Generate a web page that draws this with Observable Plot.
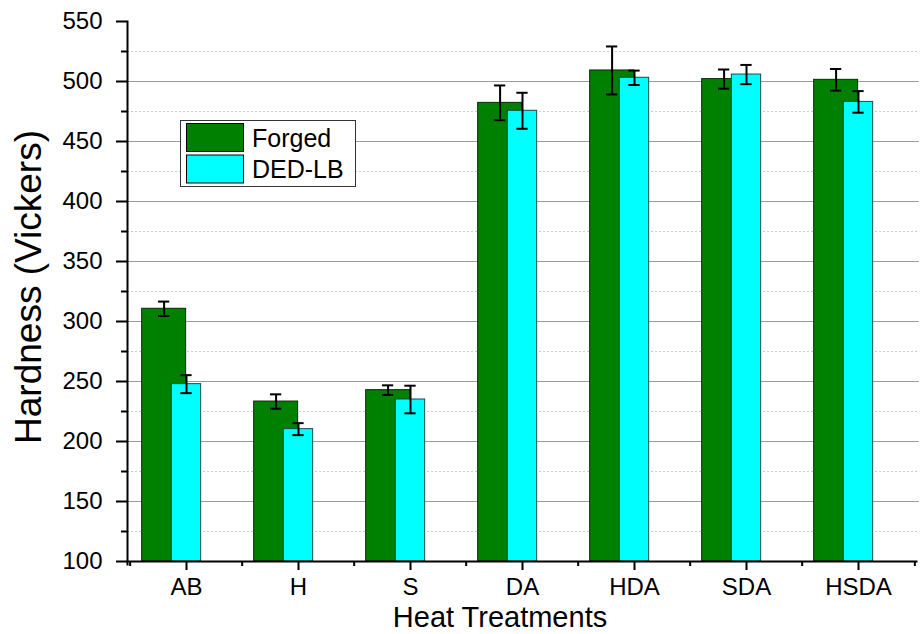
<!DOCTYPE html>
<html>
<head>
<meta charset="utf-8">
<script src="https://cdn.jsdelivr.net/npm/d3@7"></script>
<script src="https://cdn.jsdelivr.net/npm/@observablehq/plot@0.6"></script>
<style>
  html, body { margin: 0; padding: 0; background: #fff; }
  #chart { width: 920px; height: 634px; }
</style>
</head>
<body>
<div id="chart"></div>
<script>
// Vickers hardness per heat treatment, forged vs DED-LB material
const categories = ["AB", "H", "S", "DA", "HDA", "SDA", "HSDA"];
const seriesNames = ["Forged", "DED-LB"];
const seriesColors = ["#008000", "#00ffff"];

const forgedMean = [310.6, 233.3, 242.8, 482.2, 509.2, 502.0, 501.4];
const forgedErr  = [6, 6, 4, 14.5, 20, 8, 9];
const dedMean    = [247.8, 210.3, 235.0, 475.6, 503.1, 505.8, 483.0];
const dedErr     = [7.5, 5, 11.5, 15, 6, 8, 9];

const yMajorTicks = [100, 150, 200, 250, 300, 350, 400, 450, 500, 550];
const yMinorTicks = [125, 175, 225, 275, 325, 375, 425, 475, 525];
const yGridMajor = [150, 200, 250, 300, 350, 400, 450, 500];

const W = 920, H = 634;
const mLeft = 127, mRight = 4, mTop = 21, mBottom = 73;
const bw = (W - mLeft - mRight) / categories.length;

const forgedRows = categories.map((c, i) => ({cat: c, v: forgedMean[i], e: forgedErr[i]}));
const dedRows = categories.map((c, i) => ({cat: c, v: dedMean[i], e: dedErr[i]}));

// Forged bar is wider and sits left of the category centre; DED-LB bar is centred and drawn on top
const forgedDx = -22.4;
const capW = 12;
const capInset = (bw - capW) / 2;

const errMarks = (rows, dx) => [
  Plot.ruleX(rows, {x: "cat", y1: d => d.v - d.e, y2: d => d.v + d.e, dx, stroke: "#000", strokeWidth: 2}),
  Plot.tickY(rows, {x: "cat", y: d => d.v + d.e, dx, insetLeft: capInset, insetRight: capInset, stroke: "#000", strokeWidth: 2}),
  Plot.tickY(rows, {x: "cat", y: d => d.v - d.e, dx, insetLeft: capInset, insetRight: capInset, stroke: "#000", strokeWidth: 2})
];

const chart = Plot.plot({
  width: W,
  height: H,
  marginLeft: mLeft,
  marginRight: mRight,
  marginTop: mTop,
  marginBottom: mBottom,
  style: {fontFamily: "'Liberation Sans', Arial, sans-serif", background: "#fff", overflow: "visible"},
  x: {type: "band", domain: categories, padding: 0, label: null},
  y: {domain: [100, 550], label: null},
  marks: [
    // grid
    Plot.ruleY(yMinorTicks, {stroke: "#cacaca", strokeWidth: 1, strokeDasharray: "2,2", insetRight: -3}),
    Plot.ruleY(yGridMajor, {stroke: "#9a9a9a", strokeWidth: 1.2, insetRight: -3}),
    // bars
    Plot.barY(forgedRows, {x: "cat", y1: 100, y2: "v", fill: seriesColors[0], stroke: "#0a2a0a", strokeWidth: 1,
      insetLeft: bw / 2 - 44.7, insetRight: bw / 2}),
    ...errMarks(forgedRows, forgedDx),
    Plot.barY(dedRows, {x: "cat", y1: 100, y2: "v", fill: seriesColors[1], stroke: "#1a4a4a", strokeWidth: 1,
      insetLeft: bw / 2 - 15, insetRight: bw / 2 - 15}),
    ...errMarks(dedRows, 0),
    // axes
    Plot.axisY(yMajorTicks, {tickSize: 11, tickPadding: 14, fontSize: 24, stroke: "#000", strokeWidth: 2, fill: "#000", label: null}),
    Plot.axisY(yMinorTicks, {tickSize: 6, tickFormat: () => "", stroke: "#000", strokeWidth: 2, label: null}),
    Plot.axisX({tickSize: 9, tickPadding: 7, fontSize: 24, stroke: "#000", strokeWidth: 2, fill: "#000", label: null}),
    // minor x ticks on category boundaries
    Plot.ruleX(categories, {x: d => d, dx: -bw / 2, y1: 100, y2: 100, insetBottom: -5, stroke: "#000", strokeWidth: 2}),
    Plot.ruleX(categories.slice(-1), {x: d => d, dx: bw / 2, y1: 100, y2: 100, insetBottom: -5, stroke: "#000", strokeWidth: 2}),
    Plot.frame({anchor: "left", stroke: "#000", strokeWidth: 2, insetBottom: -3}),
    Plot.frame({anchor: "bottom", stroke: "#000", strokeWidth: 2})
  ]
});

document.getElementById("chart").appendChild(chart);

// axis titles and legend
const svg = d3.select(chart);
svg.append("text")
  .attr("x", 500).attr("y", 627)
  .attr("text-anchor", "middle")
  .attr("font-size", 29).attr("fill", "#000")
  .text("Heat Treatments");
svg.append("text")
  .attr("transform", "translate(41,287) rotate(-90)")
  .attr("text-anchor", "middle")
  .attr("font-size", 37).attr("fill", "#000")
  .text("Hardness (Vickers)");

const lg = svg.append("g").attr("transform", "translate(180,120)");
lg.append("rect").attr("x", 0.5).attr("y", 0.5).attr("width", 175).attr("height", 66)
  .attr("fill", "#fff").attr("stroke", "#333").attr("stroke-width", 1);
seriesNames.forEach((name, i) => {
  const y0 = 3.5 + i * 31.5;
  lg.append("rect").attr("x", 6.5).attr("y", y0).attr("width", 57).attr("height", 28)
    .attr("fill", seriesColors[i]).attr("stroke", "#000").attr("stroke-width", 1);
  lg.append("text").attr("x", 72).attr("y", y0 + 23)
    .attr("text-anchor", "start")
    .attr("font-size", 25).attr("fill", "#000").text(name);
});
</script>
</body>
</html>
